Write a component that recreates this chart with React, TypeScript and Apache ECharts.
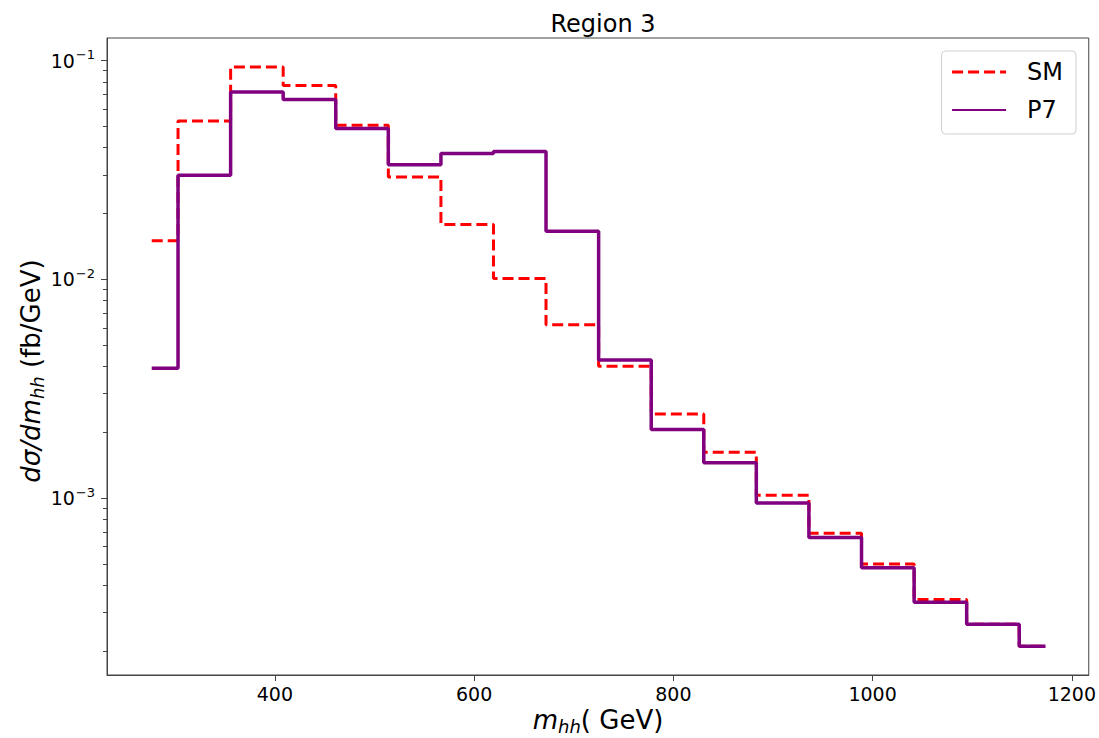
import React, { useEffect, useRef } from 'react';
import * as echarts from 'echarts';

// bin centres of m_hh (GeV)
const binCenters = [276.4, 329.2, 382.0, 434.7, 487.5, 540.3, 593.1, 645.8, 698.6, 751.4, 804.2, 856.9, 909.7, 962.5, 1015.3, 1068.1, 1120.8, 1173.6];
// dσ/dm_hh (fb/GeV)
const smValues = [0.0150, 0.0529, 0.0935, 0.0770, 0.0506, 0.0294, 0.0178, 0.0101, 0.0062, 0.0040, 0.00242, 0.00162, 0.00103, 0.00069, 0.00050, 0.000344, 0.000265, 0.00021];
const p7Values = [0.00392, 0.0299, 0.0718, 0.0665, 0.0489, 0.0334, 0.0376, 0.0384, 0.0166, 0.00428, 0.00206, 0.00145, 0.00095, 0.00066, 0.00048, 0.000334, 0.000265, 0.00021];

const xTicks = [400, 600, 800, 1000, 1200];
const yMajorTicks = [1e-3, 1e-2, 1e-1];
const yMinorTicks = [2e-4, 3e-4, 4e-4, 5e-4, 6e-4, 7e-4, 8e-4, 9e-4, 2e-3, 3e-3, 4e-3, 5e-3, 6e-3, 7e-3, 8e-3, 9e-3, 2e-2, 3e-2, 4e-2, 5e-2, 6e-2, 7e-2, 8e-2, 9e-2];

const X_MIN = 231.5;
const X_MAX = 1217;
const Y_MIN = 1.552e-4;
const Y_MAX = 0.1269;

const FONT = 'DejaVu Sans';

export default function App() {
  const ref = useRef<HTMLDivElement>(null);
  useEffect(() => {
    const chart = echarts.init(ref.current!, null, { renderer: 'svg' });
    const yAxisBase = {
      type: 'log',
      logBase: 10,
      min: Y_MIN,
      max: Y_MAX,
      position: 'left',
      splitLine: { show: false },
    };
    chart.setOption({
      animation: false,
      backgroundColor: '#ffffff',
      title: {
        text: 'Region 3',
        left: 598,
        top: 7,
        textAlign: 'center',
        textStyle: { fontFamily: FONT, fontSize: 24, fontWeight: 'normal', color: '#000' },
      },
      grid: {
        left: 107,
        right: 10,
        top: 38,
        bottom: 63,
        show: true,
        borderColor: '#444',
        borderWidth: 1,
        backgroundColor: 'transparent',
      },
      legend: {
        orient: 'vertical',
        right: 23,
        top: 51,
        padding: [9, 13, 12, 9],
        itemGap: 14,
        itemWidth: 54,
        itemHeight: 14,
        backgroundColor: '#fff',
        borderColor: '#d0d0d0',
        borderWidth: 1,
        borderRadius: 4,
        itemStyle: { opacity: 0 },
        textStyle: { fontFamily: FONT, fontSize: 24, color: '#000', padding: [0, 0, 0, 16] },
        data: [
          { name: 'SM', lineStyle: { width: 3 } },
          { name: 'P7', lineStyle: { width: 2.2 } },
        ],
      },
      xAxis: {
        type: 'value',
        min: X_MIN,
        max: X_MAX,
        splitLine: { show: false },
        axisLine: { show: true, lineStyle: { color: '#444', width: 1 } },
        axisTick: { show: true, customValues: xTicks, length: 6, lineStyle: { color: '#444' } },
        axisLabel: {
          customValues: xTicks,
          formatter: (v: number) => String(Math.round(v)),
          fontFamily: FONT,
          fontSize: 19,
          color: '#000',
          margin: 9,
        },
      },
      yAxis: [
        {
          ...yAxisBase,
          axisLine: { show: true, lineStyle: { color: '#444', width: 1 } },
          axisTick: { show: true, customValues: yMajorTicks, length: 6, lineStyle: { color: '#444' } },
          axisLabel: {
            customValues: yMajorTicks,
            margin: 12,
            formatter: (v: number) => {
              const e = Math.round(Math.log10(v));
              return '{b|10}{e|−' + Math.abs(e) + '}';
            },
            rich: {
              b: { fontFamily: FONT, fontSize: 19, color: '#000' },
              e: { fontFamily: FONT, fontSize: 13, color: '#000', padding: [0, 0, 12, 1] },
            },
          },
        },
        {
          ...yAxisBase,
          axisLine: { show: false },
          axisTick: { show: true, customValues: yMinorTicks, length: 4, lineStyle: { color: '#444' } },
          axisLabel: { show: false },
        },
      ],
      series: [
        {
          name: 'SM',
          type: 'line',
          step: 'middle',
          symbol: 'none',
          yAxisIndex: 0,
          data: binCenters.map((x, i) => [x, smValues[i]]),
          lineStyle: { color: '#ff0000', width: 3, type: [11, 5] },
          itemStyle: { color: '#ff0000' },
          z: 2,
        },
        {
          name: 'P7',
          type: 'line',
          step: 'middle',
          symbol: 'none',
          yAxisIndex: 0,
          data: binCenters.map((x, i) => [x, p7Values[i]]),
          lineStyle: { color: '#800080', width: 3.5 },
          itemStyle: { color: '#800080' },
          z: 3,
        },
      ],
      graphic: [
        {
          type: 'text',
          x: 598,
          y: 720,
          style: {
            text: '{i|m}{s|hh}{n|( GeV)}',
            align: 'center',
            verticalAlign: 'middle',
            rich: {
              i: { fontFamily: FONT, fontStyle: 'italic', fontSize: 26, color: '#000' },
              s: { fontFamily: FONT, fontStyle: 'italic', fontSize: 18, color: '#000', padding: [12, 0, 0, 0] },
              n: { fontFamily: FONT, fontSize: 26, color: '#000' },
            },
          },
        },
        {
          type: 'text',
          x: 31,
          y: 371,
          rotation: Math.PI / 2,
          style: {
            text: '{i|dσ/dm}{s|hh}{n| (fb/GeV)}',
            align: 'center',
            verticalAlign: 'middle',
            rich: {
              i: { fontFamily: FONT, fontStyle: 'italic', fontSize: 26, color: '#000' },
              s: { fontFamily: FONT, fontStyle: 'italic', fontSize: 18, color: '#000', padding: [12, 0, 0, 0] },
              n: { fontFamily: FONT, fontSize: 26, color: '#000' },
            },
          },
        },
      ],
    });
    return () => chart.dispose();
  }, []);
  return (
    <div
      ref={ref}
      style={{ position: 'fixed', left: 0, top: 0, width: 1099, height: 738, background: '#fff' }}
    />
  );
}
